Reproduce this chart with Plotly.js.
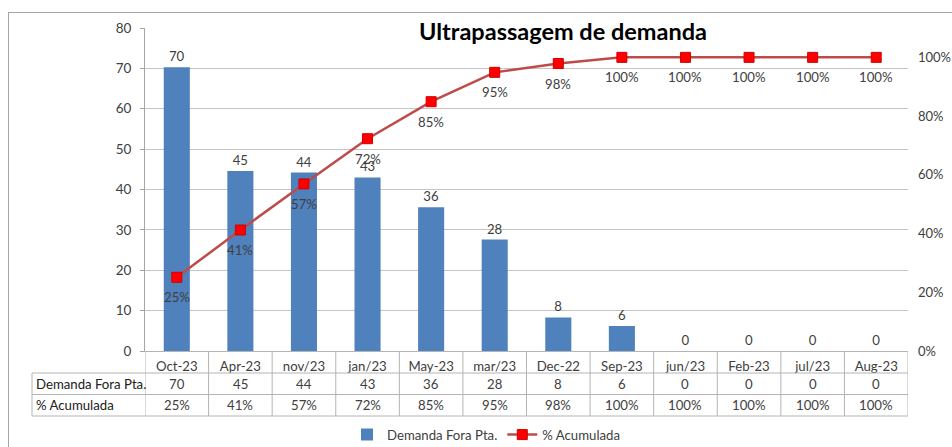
<!DOCTYPE html>
<html>
<head>
<meta charset="utf-8">
<script src="https://cdn.plot.ly/plotly-3.0.1.min.js"></script>
<style>
  html, body { margin: 0; padding: 0; background: #ffffff; }
  #frame { position: absolute; left: 8px; top: 12px; width: 1000px; height: 500px; border: 1.5px solid #a6a6a6; background: #ffffff; }
  #chart { position: absolute; left: 0; top: 0; width: 952px; height: 447px; }
</style>
</head>
<body>
<div id="frame"></div>
<div id="chart"></div>
<script>
// ---- data ----
const categories = ['Oct-23','Apr-23','nov/23','jan/23','May-23','mar/23','Dec-22','Sep-23','jun/23','Feb-23','jul/23','Aug-23'];
const demanda = [70.3, 44.6, 44.2, 43.0, 35.6, 27.6, 8.3, 6.2, 0, 0, 0, 0];
const acumulada = [0.251, 0.412, 0.569, 0.723, 0.849, 0.949, 0.979, 1.0, 1.0, 1.0, 1.0, 1.0];
const demandaLabels = ['70','45','44','43','36','28','8','6','0','0','0','0'];
const acumuladaLabels = ['25%','41%','57%','72%','85%','95%','98%','100%','100%','100%','100%','100%'];
const seriesNames = ['Demanda Fora Pta.', '% Acumulada'];
const chartTitle = 'Ultrapassagem de demanda';

// ---- geometry helpers (pixel rows of the data table -> paper coords) ----
const plotTop = 28, plotBottom = 351, plotLeft = 145, plotRight = 908;
const H = plotBottom - plotTop, W = plotRight - plotLeft;
const py = p => -(p - plotBottom) / H;
const px = p => (p - plotLeft) / W;

const FONT = 'Lato, "Open Sans", sans-serif';
const FS = 13.2;
const TXT = '#404040';
const GRID = '#c4c4c4';
const TBL = '#b4b4b4';

const barTrace = {
  type: 'bar', name: seriesNames[0], x: categories, y: demanda,
  marker: { color: '#4f81bd', line: { width: 0 } },
  text: demandaLabels, textposition: 'outside', cliponaxis: false,
  textfont: { family: FONT, size: FS, color: TXT },
  hoverinfo: 'x+y'
};
const lineTrace = {
  type: 'scatter', mode: 'lines+markers', name: seriesNames[1], x: categories, y: acumulada,
  yaxis: 'y2',
  line: { color: '#be4b48', width: 2.5 },
  marker: { symbol: 'square', size: 10, color: '#ff0000', line: { color: '#d00000', width: 1 } },
  cliponaxis: false
};

const annotations = [];
// line data labels (below the points)
categories.forEach((c, i) => {
  annotations.push({ x: c, y: acumulada[i], xref: 'x', yref: 'y2', text: acumuladaLabels[i],
    showarrow: false, yshift: -20, yanchor: 'middle', font: { family: FONT, size: FS, color: TXT } });
});
// table rows
const rowY = [py(383.5), py(404.5)];
const rowVals = [demandaLabels, acumuladaLabels];
seriesNames.forEach((n, r) => {
  annotations.push({ x: px(34), y: rowY[r], xref: 'paper', yref: 'paper', text: n, xanchor: 'left', yanchor: 'middle',
    showarrow: false, font: { family: FONT, size: FS, color: '#202020' } });
  categories.forEach((c, i) => {
    annotations.push({ x: c, y: rowY[r], xref: 'x', yref: 'paper', text: rowVals[r][i], xanchor: 'center', yanchor: 'middle',
      showarrow: false, font: { family: FONT, size: FS, color: TXT } });
  });
});
// title
annotations.push({ x: px(563), y: py(31), xref: 'paper', yref: 'paper', text: '<b>' + chartTitle + '</b>',
  xanchor: 'center', yanchor: 'middle',
  showarrow: false, font: { family: FONT, size: 23.5, color: '#000000' } });

const shapes = [];
const lineStyle = { color: TBL, width: 1 };
// horizontal table lines
[373, 394.5, 416].forEach(p => {
  shapes.push({ type: 'line', xref: 'paper', yref: 'paper', x0: px(32), x1: 1, y0: py(p), y1: py(p), line: lineStyle });
});
// left border of header column
shapes.push({ type: 'line', xref: 'paper', yref: 'paper', x0: px(32), x1: px(32), y0: py(373), y1: py(416), line: lineStyle });
// category column borders
for (let i = 0; i <= categories.length; i++) {
  shapes.push({ type: 'line', xref: 'x', yref: 'paper', x0: i - 0.5, x1: i - 0.5, y0: 0, y1: py(416), line: lineStyle });
}

const layout = {
  width: 952, height: 447,
  margin: { l: plotLeft, r: 952 - plotRight, t: plotTop, b: 447 - plotBottom, autoexpand: false },
  paper_bgcolor: 'rgba(0,0,0,0)', plot_bgcolor: 'rgba(0,0,0,0)',
  font: { family: FONT, size: FS, color: TXT },
  bargap: 0.59,
  showlegend: true,
  legend: { orientation: 'h', x: px(486), xanchor: 'center', y: py(435), yanchor: 'middle',
    font: { family: FONT, size: FS, color: TXT }, itemwidth: 30, tracegroupgap: 0 },
  xaxis: { type: 'category', range: [-0.5, 11.5], showgrid: false, showline: true, linecolor: TBL, linewidth: 1,
    ticks: '', ticklabelstandoff: 3, tickfont: { family: FONT, size: FS, color: TXT },
    fixedrange: true },
  yaxis: { range: [0, 80], dtick: 10, showgrid: true, gridcolor: GRID, gridwidth: 1, zeroline: false,
    showline: true, linecolor: '#a6a6a6', linewidth: 1, ticks: 'outside', ticklen: 4, tickcolor: '#a6a6a6',
    tickfont: { family: FONT, size: 13.5, color: TXT }, ticklabelstandoff: 6 },
  yaxis2: { overlaying: 'y', side: 'right', range: [0, 1.1], tickvals: [0, 0.2, 0.4, 0.6, 0.8, 1.0],
    tickformat: '.0%', showgrid: false, zeroline: false, showline: false, ticks: '',
    tickfont: { family: FONT, size: 13, color: TXT }, ticklabelstandoff: 9 },
  annotations: annotations,
  shapes: shapes
};

Plotly.newPlot('chart', [barTrace, lineTrace], layout, { displayModeBar: false, staticPlot: true });
</script>
</body>
</html>
